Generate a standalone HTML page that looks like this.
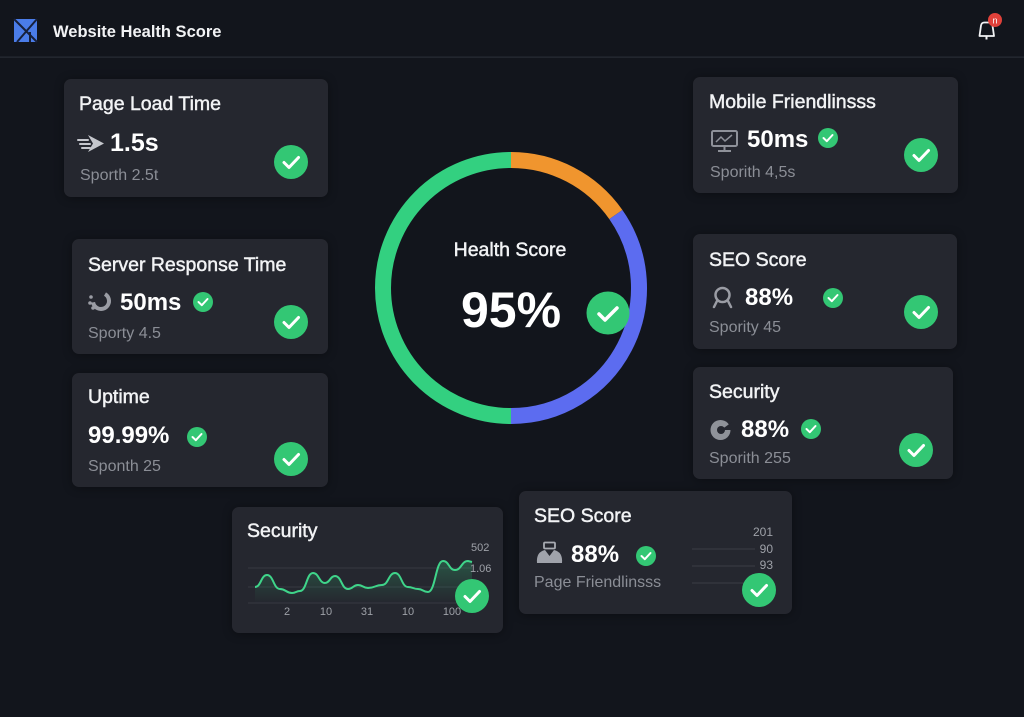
<!DOCTYPE html>
<html><head><meta charset="utf-8"><style>
html,body{margin:0;padding:0;background:#12151c;}
svg{display:block;font-family:"Liberation Sans",sans-serif;}
.ti{font-size:19.5px;fill:#f2f3f5;stroke:#f2f3f5;stroke-width:0.45px;}
.va{font-size:24px;font-weight:bold;fill:#ffffff;}
.su{font-size:16px;fill:#8b8e96;}
.ax{font-size:11px;fill:#9ea1a8;}
</style></head><body>
<svg width="1024" height="717" viewBox="0 0 1024 717" xmlns="http://www.w3.org/2000/svg">
<defs>
<linearGradient id="gf" x1="0" y1="0" x2="0" y2="1">
<stop offset="0" stop-color="#34c77b" stop-opacity="0.28"/>
<stop offset="1" stop-color="#34c77b" stop-opacity="0"/>
</linearGradient>
<filter id="sh" x="-10%" y="-10%" width="120%" height="120%"><feGaussianBlur stdDeviation="5"/></filter>
</defs>
<rect width="1024" height="717" fill="#12151c"/>
<!-- header -->
<rect x="0" y="56.5" width="1024" height="1.3" fill="#262a33"/>
<rect x="14" y="19" width="23" height="23" fill="#4a7ce8"/>
<path d="M14 19 L37 42 M37 19 L17 42 M30 32 L30 42" stroke="#17203a" stroke-width="2" fill="none"/>
<text x="53" y="37" style="font-size:16.5px;font-weight:bold;fill:#f2f3f5">Website Health Score</text>
<path d="M979.5 36 L981 25.5 Q981.5 22.5 984.5 22.5 L989 22.5 Q992 22.5 992.5 25.5 L994 36 Z" fill="none" stroke="#f2f3f5" stroke-width="1.8" stroke-linejoin="round"/>
<line x1="986.5" y1="36" x2="986.5" y2="39.5" stroke="#f2f3f5" stroke-width="2"/>
<circle cx="995" cy="20" r="7" fill="#e0413a"/>
<text x="995" y="23.5" text-anchor="middle" style="font-size:9px;fill:#fff">n</text>

<!-- card shadows -->
<g fill="#000" opacity="0.35" filter="url(#sh)">
<rect x="64" y="80" width="264" height="118" rx="7"/>
<rect x="693" y="78" width="265" height="116" rx="7"/>
<rect x="72" y="240" width="256" height="115" rx="7"/>
<rect x="72" y="374" width="256" height="114" rx="7"/>
<rect x="693" y="235" width="264" height="115" rx="7"/>
<rect x="693" y="368" width="260" height="112" rx="7"/>
<rect x="232" y="508" width="271" height="126" rx="7"/>
<rect x="519" y="492" width="273" height="123" rx="7"/>
</g>
<!-- cards -->
<g fill="#25272f">
<rect x="64" y="79" width="264" height="118" rx="7"/>
<rect x="693" y="77" width="265" height="116" rx="7"/>
<rect x="72" y="239" width="256" height="115" rx="7"/>
<rect x="72" y="373" width="256" height="114" rx="7"/>
<rect x="693" y="234" width="264" height="115" rx="7"/>
<rect x="693" y="367" width="260" height="112" rx="7"/>
<rect x="232" y="507" width="271" height="126" rx="7"/>
<rect x="519" y="491" width="273" height="123" rx="7"/>
</g>

<!-- ring -->
<g fill="none" stroke-width="16">
<path d="M511 160 A128 128 0 0 1 615.85 214.58" stroke="#f0952e"/>
<path d="M615.85 214.58 A128 128 0 0 1 511 416" stroke="#5c6cf0"/>
<path d="M511 416 A128 128 0 0 1 383 288 A128 128 0 0 1 511 160" stroke="#33d080"/>
</g>
<text x="510" y="256" text-anchor="middle" class="ti">Health Score</text>
<text x="511" y="327" text-anchor="middle" style="font-size:50px;font-weight:bold;fill:#fff">95%</text>
<circle cx="608" cy="313" r="21.5" fill="#33c774"/>
<polyline points="599,314 605,320 617,308" fill="none" stroke="#fff" stroke-width="3.5" stroke-linecap="round" stroke-linejoin="round"/>

<!-- Page Load Time -->
<text x="79" y="110" class="ti">Page Load Time</text>
<g stroke="#c4c6cc" stroke-width="2" stroke-linecap="round">
<line x1="78" y1="140" x2="88" y2="140"/><line x1="80" y1="144" x2="90" y2="144"/><line x1="82" y1="148" x2="90" y2="148"/>
</g>
<polygon points="88,135 104,143.5 88,152 93,143.5" fill="#c4c6cc"/>
<text x="110" y="151" class="va" style="font-size:25px">1.5s</text>
<text x="80" y="180" class="su">Sporth 2.5t</text>

<!-- Mobile -->
<text x="709" y="108" class="ti">Mobile Friendlinsss</text>
<rect x="712" y="131" width="25" height="15" rx="1.5" fill="none" stroke="#8e9199" stroke-width="2"/>
<polyline points="716,142 721,137 725,141 732,135" fill="none" stroke="#8e9199" stroke-width="1.5"/>
<line x1="724.5" y1="146" x2="724.5" y2="150" stroke="#8e9199" stroke-width="2"/>
<line x1="718" y1="151" x2="731" y2="151" stroke="#8e9199" stroke-width="2"/>
<text x="747" y="147" class="va">50ms</text>
<text x="710" y="177" class="su">Sporith 4,5s</text>

<!-- Server Response -->
<text x="88" y="271" class="ti">Server Response Time</text>
<circle cx="101" cy="301" r="8" fill="none" stroke="#9a9ca4" stroke-width="4" stroke-dasharray="32 18" transform="rotate(-60 101 301)"/>
<circle cx="91" cy="297" r="1.8" fill="#9a9ca4"/><circle cx="90" cy="303" r="1.8" fill="#9a9ca4"/><circle cx="93" cy="308" r="1.8" fill="#9a9ca4"/>
<text x="120" y="310" class="va">50ms</text>
<text x="88" y="338" class="su">Sporty 4.5</text>

<!-- Uptime -->
<text x="88" y="403" class="ti">Uptime</text>
<text x="88" y="443" class="va">99.99%</text>
<text x="88" y="471" class="su">Sponth 25</text>

<!-- SEO right -->
<text x="709" y="266" class="ti">SEO Score</text>
<circle cx="722.5" cy="295" r="7" fill="none" stroke="#9a9ca4" stroke-width="2.5"/>
<path d="M717 301 L714 307 M728 301 L731 307" stroke="#9a9ca4" stroke-width="2.5" stroke-linecap="round"/>
<text x="745" y="305" class="va">88%</text>
<text x="709" y="332" class="su">Spority 45</text>

<!-- Security right -->
<text x="709" y="398" class="ti">Security</text>
<circle cx="720.5" cy="430" r="10" fill="#8f9299"/>
<circle cx="721" cy="430" r="4" fill="#25272f"/>
<path d="M721 430 L732 422 L732 430 Z" fill="#25272f"/>
<text x="741" y="437" class="va">88%</text>
<text x="709" y="463" class="su">Sporith 255</text>

<!-- Security chart -->
<text x="247" y="537" class="ti">Security</text>
<g stroke="#363942" stroke-width="1">
<line x1="248" y1="568" x2="472" y2="568"/>
<line x1="248" y1="587" x2="472" y2="587"/>
<line x1="248" y1="603" x2="472" y2="603"/>
</g>
<path d="M255 587 C261 587 261 575 267 575 C273.5 575 273.5 589 280 589 C286 589 286 593 292 593 C296 593 296 591 300 591 C306.5 591 306.5 573 313 573 C319 573 319 583 325 583 C330 583 330 576 335 576 C341.5 576 341.5 589 348 589 C353 589 353 585 358 585 C363 585 363 588 368 588 C375 588 375 585 382 585 C388.5 585 388.5 573 395 573 C401.5 573 401.5 587 408 587 C413 587 413 589 418 589 C423 589 423 592 428 592 C435.5 592 435.5 561 443 561 C449 561 449 570 455 570 C461.5 570 461.5 561 468 561 L472 562 L472 603 L255 603 Z" fill="url(#gf)"/>
<path d="M255 587 C261 587 261 575 267 575 C273.5 575 273.5 589 280 589 C286 589 286 593 292 593 C296 593 296 591 300 591 C306.5 591 306.5 573 313 573 C319 573 319 583 325 583 C330 583 330 576 335 576 C341.5 576 341.5 589 348 589 C353 589 353 585 358 585 C363 585 363 588 368 588 C375 588 375 585 382 585 C388.5 585 388.5 573 395 573 C401.5 573 401.5 587 408 587 C413 587 413 589 418 589 C423 589 423 592 428 592 C435.5 592 435.5 561 443 561 C449 561 449 570 455 570 C461.5 570 461.5 561 468 561 L472 562" fill="none" stroke="#3fd58a" stroke-width="2"/>
<text x="471" y="551" class="ax">502</text>
<text x="470" y="572" class="ax">1.06</text>
<text x="287" y="615" text-anchor="middle" class="ax">2</text>
<text x="326" y="615" text-anchor="middle" class="ax">10</text>
<text x="367" y="615" text-anchor="middle" class="ax">31</text>
<text x="408" y="615" text-anchor="middle" class="ax">10</text>
<text x="452" y="615" text-anchor="middle" class="ax">100</text>

<!-- SEO bottom -->
<text x="534" y="522" class="ti">SEO Score</text>
<rect x="544" y="542.5" width="11" height="6" rx="1" fill="none" stroke="#a8abb2" stroke-width="1.8"/>
<path d="M537 563 Q536 552 545 550 L549.5 556 L554 550 Q563 552 562 563 Z" fill="#a0a3ab"/>
<text x="571" y="562" class="va">88%</text>
<text x="534" y="587" class="su">Page Friendlinsss</text>
<g stroke="#3a3d46" stroke-width="1">
<line x1="692" y1="549" x2="755" y2="549"/>
<line x1="692" y1="566" x2="755" y2="566"/>
<line x1="692" y1="583" x2="755" y2="583"/>
</g>
<text x="773" y="536" text-anchor="end" class="ax" style="font-size:12px">201</text>
<text x="773" y="553" text-anchor="end" class="ax" style="font-size:12px">90</text>
<text x="773" y="569" text-anchor="end" class="ax" style="font-size:12px">93</text>

<!-- big checks -->
<g>
<circle cx="291" cy="162" r="17" fill="#33c774"/><polyline points="284,162.5 289,167.5 298.5,157.5" fill="none" stroke="#fff" stroke-width="3" stroke-linecap="round" stroke-linejoin="round"/>
<circle cx="921" cy="155" r="17" fill="#33c774"/><polyline points="914,155.5 919,160.5 928.5,150.5" fill="none" stroke="#fff" stroke-width="3" stroke-linecap="round" stroke-linejoin="round"/>
<circle cx="291" cy="322" r="17" fill="#33c774"/><polyline points="284,322.5 289,327.5 298.5,317.5" fill="none" stroke="#fff" stroke-width="3" stroke-linecap="round" stroke-linejoin="round"/>
<circle cx="291" cy="459" r="17" fill="#33c774"/><polyline points="284,459.5 289,464.5 298.5,454.5" fill="none" stroke="#fff" stroke-width="3" stroke-linecap="round" stroke-linejoin="round"/>
<circle cx="921" cy="312" r="17" fill="#33c774"/><polyline points="914,312.5 919,317.5 928.5,307.5" fill="none" stroke="#fff" stroke-width="3" stroke-linecap="round" stroke-linejoin="round"/>
<circle cx="916" cy="450" r="17" fill="#33c774"/><polyline points="909,450.5 914,455.5 923.5,445.5" fill="none" stroke="#fff" stroke-width="3" stroke-linecap="round" stroke-linejoin="round"/>
<circle cx="472" cy="596" r="17" fill="#33c774"/><polyline points="465,596.5 470,601.5 479.5,591.5" fill="none" stroke="#fff" stroke-width="3" stroke-linecap="round" stroke-linejoin="round"/>
<circle cx="759" cy="590" r="17" fill="#33c774"/><polyline points="752,590.5 757,595.5 766.5,585.5" fill="none" stroke="#fff" stroke-width="3" stroke-linecap="round" stroke-linejoin="round"/>
</g>
<!-- small checks -->
<g>
<circle cx="828" cy="138" r="10" fill="#33c774"/><polyline points="823.5,138 826.8,141.2 832.5,135" fill="none" stroke="#fff" stroke-width="2" stroke-linecap="round" stroke-linejoin="round"/>
<circle cx="203" cy="302" r="10" fill="#33c774"/><polyline points="198.5,302 201.8,305.2 207.5,299" fill="none" stroke="#fff" stroke-width="2" stroke-linecap="round" stroke-linejoin="round"/>
<circle cx="197" cy="437" r="10" fill="#33c774"/><polyline points="192.5,437 195.8,440.2 201.5,434" fill="none" stroke="#fff" stroke-width="2" stroke-linecap="round" stroke-linejoin="round"/>
<circle cx="833" cy="298" r="10" fill="#33c774"/><polyline points="828.5,298 831.8,301.2 837.5,295" fill="none" stroke="#fff" stroke-width="2" stroke-linecap="round" stroke-linejoin="round"/>
<circle cx="811" cy="429" r="10" fill="#33c774"/><polyline points="806.5,429 809.8,432.2 815.5,426" fill="none" stroke="#fff" stroke-width="2" stroke-linecap="round" stroke-linejoin="round"/>
<circle cx="646" cy="556" r="10" fill="#33c774"/><polyline points="641.5,556 644.8,559.2 650.5,553" fill="none" stroke="#fff" stroke-width="2" stroke-linecap="round" stroke-linejoin="round"/>
</g>
</svg>
</body></html>
